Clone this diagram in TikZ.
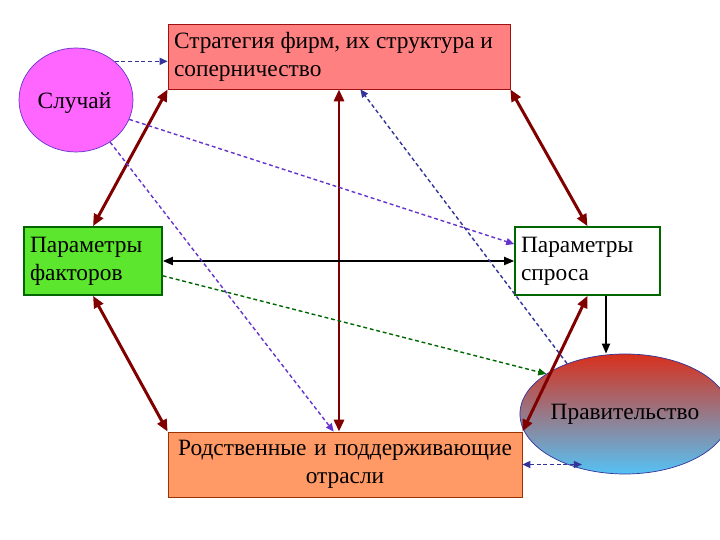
\documentclass[tikz,border=0pt]{standalone}
\usepackage{fontspec}
\setmainfont{Liberation Serif}
\usetikzlibrary{arrows.meta, positioning, shapes.geometric}
\definecolor{stratfill}{HTML}{FF8080}
\definecolor{stratline}{HTML}{A01010}
\definecolor{chancefill}{HTML}{FF66FF}
\definecolor{chanceline}{HTML}{6633CC}
\definecolor{factfill}{HTML}{5CE62E}
\definecolor{factline}{HTML}{006600}
\definecolor{relfill}{HTML}{FF9966}
\definecolor{relline}{HTML}{993300}
\definecolor{govtop}{HTML}{D8301C}
\definecolor{govbot}{HTML}{55C2F5}
\definecolor{darkred}{HTML}{800000}
\definecolor{dblue}{HTML}{333399}
\definecolor{dgreen}{HTML}{006600}

\begin{document}
\begin{tikzpicture}[font=\fontsize{13.3}{16}\selectfont,
    box/.style={draw, minimum height=1.3cm, inner sep=0.12cm, align=flush left},
    duo/.style={draw=darkred, line width=1.7pt, {Triangle[length=2.4mm,width=2mm]}-{Triangle[length=2.4mm,width=2mm]}},
    hint/.style={draw=dblue, line width=0.8pt, dash pattern=on 2.2pt off 1.6pt, -{Triangle[length=1.6mm,width=1.4mm]}},
    plain/.style={draw, line width=1pt, -{Triangle[length=2mm,width=1.6mm]}}
]
    \useasboundingbox (0,0) rectangle (14.4,10.8);
    \node[box, fill=stratfill, draw=stratline, text width=6.6cm] (strat) at (6.78,9.67) {Стратегия фирм, их структура и\\соперничество};
    \node[ellipse, draw=chanceline, fill=chancefill, minimum width=2.28cm, minimum height=2.08cm, inner sep=0pt] (chance) at (1.52,8.8) {};
    \node (chancetxt) at (1.49,8.74) {Случай};
    \node[box, fill=factfill, draw=factline, line width=0.9pt, minimum height=1.36cm, text width=2.52cm] (fact) at (1.86,5.58) {Параметры\\факторов};
    \node[box, fill=white, draw=factline, line width=0.9pt, minimum height=1.36cm, text width=2.66cm] (dem) at (11.75,5.58) {Параметры\\спроса};
    \node[ellipse, draw=dblue, top color=govtop, bottom color=govbot, minimum width=3.66cm, minimum height=2.4cm, inner sep=0pt] (gov) at (12.5,2.52) {Правительство};
    \node[box, fill=relfill, draw=relline, align=center, text width=6.84cm] (rel) at (6.9,1.51) {Родственные и поддерживающие\\отрасли};
    \draw[duo] (strat.south west) -- (fact.north);
    \draw[duo] (strat.south) -- (strat.south |- rel.north);
    \draw[duo] (strat.south east) -- (dem.north);
    \draw[duo] (fact.south) -- (rel.north west);
    \draw[duo] (rel.north east) -- (dem.south);
    \draw[plain, {Triangle[length=2mm,width=1.6mm]}-{Triangle[length=2mm,width=1.6mm]}] (fact.east) -- (dem.west);
    \draw[plain] ([xshift=0.37cm]dem.south) -- ([xshift=0.37cm]dem.south |- gov.north);
    \draw[hint] (chance.45) -- (chance.45 -| strat.west);
    \draw[hint, draw=chanceline] (chance.-20) -- (dem.167);
    \draw[hint, draw=chanceline] (chance.-51) -- (rel.109);
    \draw[hint, draw=dgreen] (fact.-12) -- (gov.153);
    \draw[hint] (gov.139) -- (strat.-57);
    \draw[hint, {Triangle[length=1.6mm,width=1.4mm]}-{Triangle[length=1.6mm,width=1.4mm]}] (rel.east) -- (gov.232 |- rel.east);
\end{tikzpicture}
\end{document}
